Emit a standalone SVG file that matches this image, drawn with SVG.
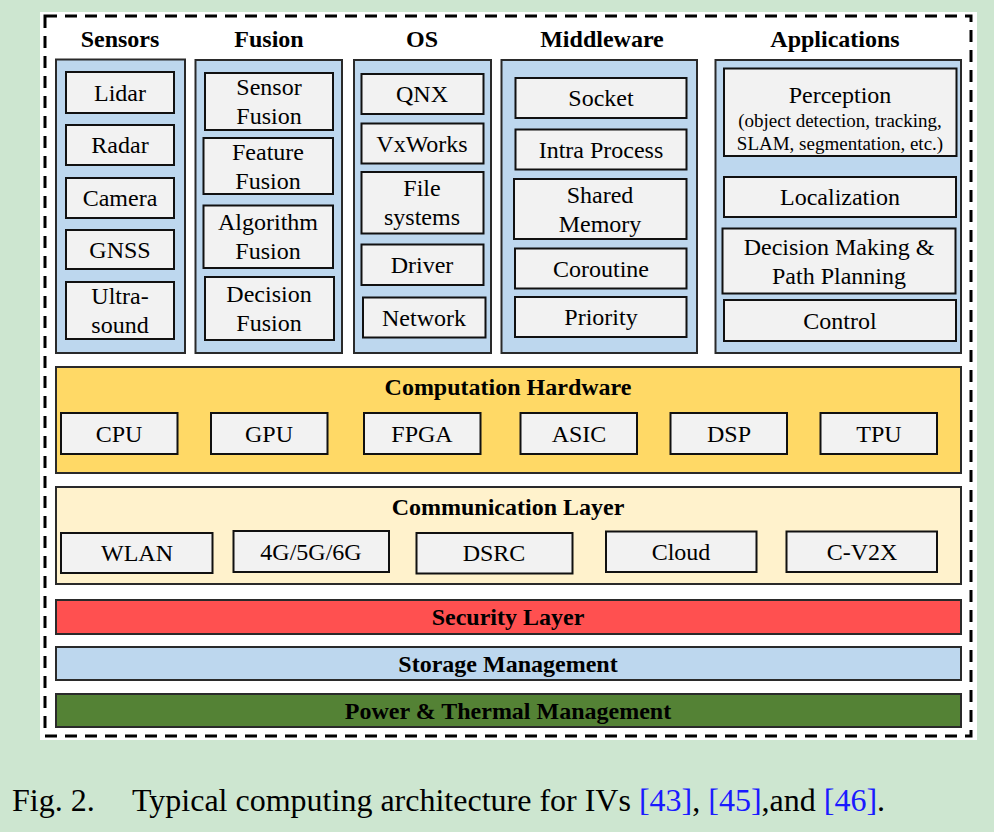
<svg xmlns="http://www.w3.org/2000/svg" width="994" height="832" viewBox="0 0 994 832">
<style>
text{font-family:"Liberation Serif","Times New Roman",serif;fill:#000;text-anchor:middle}
.h{font-weight:bold;font-size:24px}
.t{font-size:24px}
.s{font-size:19px}
.panel{fill:#bdd7ee;stroke:#2a2a2a;stroke-width:2}
.box{fill:#f2f2f2;stroke:#111;stroke-width:2}
.bar{stroke:#2a2a2a;stroke-width:2}
.cap{font-size:32px;text-anchor:start}
.ref{fill:#1a1aff}
</style>
<rect x="0" y="0" width="994" height="832" fill="#cde6d0"/>
<rect x="40" y="12" width="937" height="728" fill="#fff"/>
<rect x="45" y="16" width="926" height="720" fill="none" stroke="#000" stroke-width="3" stroke-dasharray="12 8"/>

<g id="headers">
<text class="h" x="120" y="47">Sensors</text>
<text class="h" x="269" y="47">Fusion</text>
<text class="h" x="422" y="47">OS</text>
<text class="h" x="602" y="47">Middleware</text>
<text class="h" x="835" y="47">Applications</text>
</g>

<g id="sensors">
<rect class="panel" x="56" y="59.5" width="129" height="293.5"/>
<g id="lidar"><rect class="box" x="66" y="72" width="108" height="41"/><text class="t" x="120" y="101">Lidar</text></g>
<g id="radar"><rect class="box" x="66" y="125" width="108" height="40"/><text class="t" x="120" y="153">Radar</text></g>
<g id="camera"><rect class="box" x="66" y="178" width="108" height="40"/><text class="t" x="120" y="206">Camera</text></g>
<g id="gnss"><rect class="box" x="66" y="230" width="108" height="39"/><text class="t" x="120" y="258">GNSS</text></g>
<g id="ultrasound"><rect class="box" x="66" y="282" width="108" height="57"/><text class="t" x="120" y="304">Ultra-</text><text class="t" x="120" y="333">sound</text></g>
</g>

<g id="fusion">
<rect class="panel" x="195.5" y="60" width="146.5" height="293"/>
<g id="sensor-fusion"><rect class="box" x="205" y="73" width="128" height="57"/><text class="t" x="269" y="95">Sensor</text><text class="t" x="269" y="124">Fusion</text></g>
<g id="feature-fusion"><rect class="box" x="203.5" y="138" width="129.5" height="56"/><text class="t" x="268" y="160">Feature</text><text class="t" x="268" y="189">Fusion</text></g>
<g id="algorithm-fusion"><rect class="box" x="203.5" y="205.5" width="129.5" height="62.5"/><text class="t" x="268" y="230">Algorithm</text><text class="t" x="268" y="259">Fusion</text></g>
<g id="decision-fusion"><rect class="box" x="205" y="277" width="129" height="63"/><text class="t" x="269" y="302">Decision</text><text class="t" x="269" y="331">Fusion</text></g>
</g>

<g id="os">
<rect class="panel" x="354" y="60" width="137" height="293"/>
<g id="qnx"><rect class="box" x="361.5" y="74" width="122" height="40"/><text class="t" x="422" y="102">QNX</text></g>
<g id="vxworks"><rect class="box" x="361.5" y="123.5" width="122" height="40"/><text class="t" x="422" y="152">VxWorks</text></g>
<g id="file-systems"><rect class="box" x="361.5" y="172" width="122" height="61.5"/><text class="t" x="422" y="196">File</text><text class="t" x="422" y="225">systems</text></g>
<g id="driver"><rect class="box" x="361.5" y="244.5" width="122" height="40.5"/><text class="t" x="422" y="273">Driver</text></g>
<g id="network"><rect class="box" x="363" y="297.5" width="122.5" height="40"/><text class="t" x="424" y="326">Network</text></g>
</g>

<g id="middleware">
<rect class="panel" x="501.5" y="60" width="195.5" height="293"/>
<g id="socket"><rect class="box" x="515.5" y="78" width="171" height="40"/><text class="t" x="601" y="106">Socket</text></g>
<g id="intra-process"><rect class="box" x="515.5" y="129.5" width="171" height="40"/><text class="t" x="601" y="158">Intra Process</text></g>
<g id="shared-memory"><rect class="box" x="514" y="179" width="172.5" height="60"/><text class="t" x="600" y="203">Shared</text><text class="t" x="600" y="232">Memory</text></g>
<g id="coroutine"><rect class="box" x="515" y="248.5" width="171.5" height="40"/><text class="t" x="601" y="277">Coroutine</text></g>
<g id="priority"><rect class="box" x="515" y="297" width="171.5" height="40"/><text class="t" x="601" y="325">Priority</text></g>
</g>

<g id="applications">
<rect class="panel" x="715.5" y="60" width="245.5" height="293"/>
<g id="perception"><rect class="box" x="724" y="68.5" width="232.5" height="87.5"/><text class="t" x="840" y="103">Perception</text><text class="s" x="840" y="127">(object detection, tracking,</text><text class="s" x="840" y="150">SLAM, segmentation, etc.)</text></g>
<g id="localization"><rect class="box" x="724" y="177" width="232" height="40"/><text class="t" x="840" y="205">Localization</text></g>
<g id="decision-making"><rect class="box" x="722.5" y="228.5" width="233" height="65"/><text class="t" x="839" y="255">Decision Making &amp;</text><text class="t" x="839" y="284">Path Planning</text></g>
<g id="control"><rect class="box" x="724" y="300" width="232" height="41"/><text class="t" x="840" y="329">Control</text></g>
</g>

<g id="computation-hardware">
<rect class="bar" x="56" y="367" width="905" height="106" fill="#ffd966"/>
<text class="h" x="508" y="395">Computation Hardware</text>
<g id="cpu"><rect class="box" x="61" y="413" width="116.5" height="41"/><text class="t" x="119" y="442">CPU</text></g>
<g id="gpu"><rect class="box" x="211" y="413" width="116.5" height="41"/><text class="t" x="269" y="442">GPU</text></g>
<g id="fpga"><rect class="box" x="364" y="413" width="116.5" height="41"/><text class="t" x="422" y="442">FPGA</text></g>
<g id="asic"><rect class="box" x="520.5" y="413" width="116.5" height="41"/><text class="t" x="579" y="442">ASIC</text></g>
<g id="dsp"><rect class="box" x="670.5" y="413" width="116.5" height="41"/><text class="t" x="729" y="442">DSP</text></g>
<g id="tpu"><rect class="box" x="820.5" y="413" width="116.5" height="41"/><text class="t" x="879" y="442">TPU</text></g>
</g>

<g id="communication-layer">
<rect class="bar" x="56" y="487" width="905" height="97" fill="#fff2cc"/>
<text class="h" x="508" y="515">Communication Layer</text>
<g id="wlan"><rect class="box" x="61" y="533" width="151.5" height="40"/><text class="t" x="137" y="561">WLAN</text></g>
<g id="g456"><rect class="box" x="233.5" y="531" width="155.5" height="41"/><text class="t" x="311" y="560">4G/5G/6G</text></g>
<g id="dsrc"><rect class="box" x="416.5" y="533" width="156" height="40.5"/><text class="t" x="494" y="561">DSRC</text></g>
<g id="cloud"><rect class="box" x="606" y="531.5" width="150.5" height="40.5"/><text class="t" x="681" y="560">Cloud</text></g>
<g id="cv2x"><rect class="box" x="786.5" y="531.5" width="150.5" height="40.5"/><text class="t" x="862" y="560">C-V2X</text></g>
</g>

<g id="security-layer">
<rect class="bar" x="56" y="600" width="905" height="34" fill="#ff5050"/>
<text class="h" x="508" y="625">Security Layer</text>
</g>
<g id="storage-management">
<rect class="bar" x="56" y="647" width="905" height="33" fill="#bdd7ee"/>
<text class="h" x="508" y="672">Storage Management</text>
</g>
<g id="power-thermal">
<rect class="bar" x="56" y="694" width="905" height="33" fill="#548235"/>
<text class="h" x="508" y="719">Power &amp; Thermal Management</text>
</g>

<g id="connectors"></g>

<text class="cap" x="12" y="811">Fig. 2.</text>
<text class="cap" x="132" y="811">Typical computing architecture for IVs <tspan class="ref">[43]</tspan>, <tspan class="ref">[45]</tspan>,and <tspan class="ref">[46]</tspan>.</text>
</svg>
